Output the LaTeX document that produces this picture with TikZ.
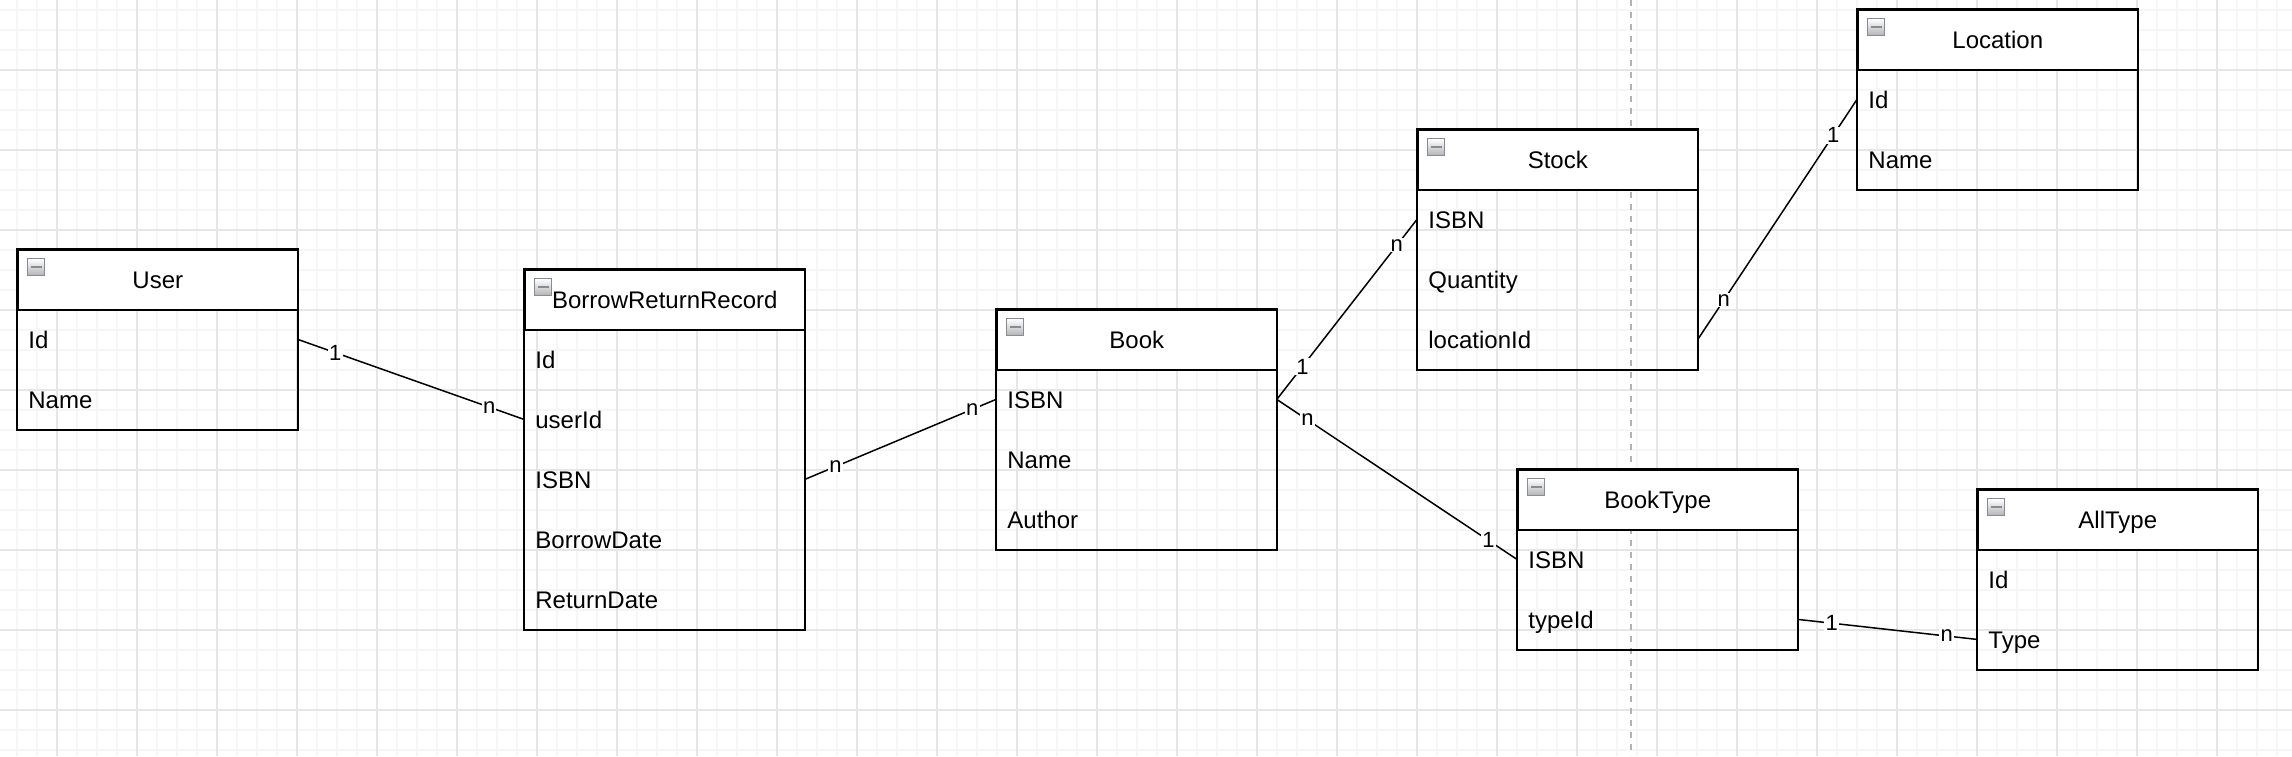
\documentclass[tikz,border=0pt]{standalone}
\usepackage{fontspec}
\setmainfont{Liberation Sans}
\usetikzlibrary{calc}
\definecolor{gminorc}{HTML}{F6F6F6}
\definecolor{gmajorc}{HTML}{E6E6E6}
\definecolor{dashc}{HTML}{B3B3B3}
\definecolor{iconborder}{HTML}{858C96}
\tikzset{
 gminor/.style={draw=gminorc, line width=0.8pt},
 gmajor/.style={draw=gmajorc, line width=0.8pt},
 hdr/.style={draw, line width=0.8pt, fill=white, anchor=north west, minimum width=140pt, minimum height=30pt, inner sep=0pt, text height=8.6pt, text depth=0pt, font=\fontsize{12}{14}\selectfont},
 rowbox/.style={anchor=north west, minimum height=30pt, inner xsep=5.5pt, inner ysep=0pt, text width=129pt, align=left, text height=8.6pt, text depth=0pt, font=\fontsize{12}{14}\selectfont},
 boxline/.style={draw, line width=0.8pt},
 minusicon/.style={anchor=north west, draw=iconborder, line width=0.7pt, top color=white, bottom color=black!30, minimum size=8.5pt, inner sep=0pt, path picture={\draw[line width=1pt] ([xshift=1.5pt]path picture bounding box.west) -- ([xshift=-1.5pt]path picture bounding box.east);}},
 conn/.style={draw, line width=0.75pt},
 lbl/.style={fill=white, inner sep=0.6pt, font=\fontsize{11}{13}\selectfont},
}
\newcommand\erbox[6]{%
 \node[hdr] (#1-h) at (#2,#3) {#4};
 \node[minusicon] (#1-i) at (#2+10,#3+9) {};
 \foreach \r [count=\i] in {#5} {\node[rowbox] (#1-\i) at (#2,{#3+60*\i}) {\r};}
 \draw[boxline] (#1-h.north west) rectangle (#1-#6.south east);
}
\begin{document}
\begin{tikzpicture}[x=0.5pt, y=-0.5pt]
\fill[white] (0,0) rectangle (2292,756);
\useasboundingbox (0,0) rectangle (2292,756);
% grid
\foreach \x in {17,37,...,2292} \draw[gminor] (\x,0) -- (\x,756);
\foreach \y in {10,30,...,756} \draw[gminor] (0,\y) -- (2292,\y);
\foreach \x in {57,137,...,2292} \draw[gmajor] (\x,0) -- (\x,756);
\foreach \y in {70,150,...,756} \draw[gmajor] (0,\y) -- (2292,\y);
% dashed divider
\draw[dashc, line width=1pt, dash pattern=on 3pt off 3pt] (1631,0) -- (1631,756);
% entities
\erbox{user}{17}{249}{User}{Id,Name}{2}
\erbox{brr}{524}{269}{BorrowReturnRecord}{Id,userId,ISBN,BorrowDate,ReturnDate}{5}
\erbox{book}{996}{309}{Book}{ISBN,Name,Author}{3}
\erbox{stock}{1417}{129}{Stock}{ISBN,Quantity,locationId}{3}
\erbox{location}{1857}{9}{Location}{Id,Name}{2}
\erbox{booktype}{1517}{469}{BookType}{ISBN,typeId}{2}
\erbox{alltype}{1977}{489}{AllType}{Id,Type}{2}
% relations
\draw[conn] (user-1.east) -- (brr-2.west) node[lbl,pos=0.166]{1} node[lbl,pos=0.846]{n};
\draw[conn] (brr-3.east) -- (book-1.west) node[lbl,pos=0.16]{n} node[lbl,pos=0.876]{n};
\draw[conn] (book-1.east) -- (stock-1.west) node[lbl,pos=0.183]{1} node[lbl,pos=0.856]{n};
\draw[conn] (book-1.east) -- (booktype-1.west) node[lbl,pos=0.128]{n} node[lbl,pos=0.881]{1};
\draw[conn] (stock-3.east) -- (location-1.west) node[lbl,pos=0.163]{n} node[lbl,pos=0.85]{1};
\draw[conn] (booktype-2.east) -- (alltype-2.west) node[lbl,pos=0.189]{1} node[lbl,pos=0.831]{n};
\end{tikzpicture}
\end{document}
